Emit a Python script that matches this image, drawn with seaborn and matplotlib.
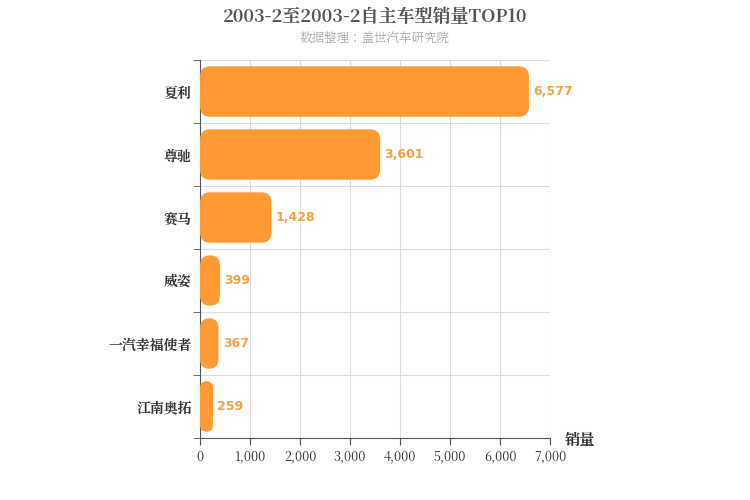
import matplotlib
matplotlib.use("Agg")
import matplotlib.pyplot as plt
import seaborn as sns
import pandas as pd
from matplotlib.patches import FancyBboxPatch
from matplotlib import font_manager as fm

cjk = [f.name for f in fm.fontManager.ttflist if "CJK" in f.name]
pref = [n for n in cjk if n.endswith("SC")] or cjk
if not pref:
    import glob
    for p in glob.glob("/usr/share/fonts/**/*CJK*", recursive=True):
        try:
            fm.fontManager.addfont(p)
        except Exception:
            pass
    cjk = [f.name for f in fm.fontManager.ttflist if "CJK" in f.name]
    pref = [n for n in cjk if n.endswith("SC")] or cjk
plt.rcParams["font.family"] = "sans-serif"
plt.rcParams["font.sans-serif"] = (pref[:1] if pref else []) + ["DejaVu Sans"]

categories = ["夏利", "尊驰", "赛马", "威姿", "一汽幸福使者", "江南奥拓"]
sales = [6577, 3601, 1428, 399, 367, 259]
xticks = [0, 1000, 2000, 3000, 4000, 5000, 6000, 7000]

df = pd.DataFrame({"cat": categories, "v": sales})
fig = plt.figure(figsize=(7.5, 5), dpi=100)
ax = fig.add_axes([0.2667, 0.124, 0.4667, 0.756])
sns.barplot(data=df, y="cat", x="v", color="#FF9933", width=0.8, ax=ax, saturation=1)
ax.set_xlim(0, 7000)
ax.set_ylim(5.5, -0.5)

for p in list(ax.patches):
    x, y, w, h = p.get_x(), p.get_y(), p.get_width(), p.get_height()
    p.remove()
    r = min(200, w / 2)
    fb = FancyBboxPatch((x, y), w, h, boxstyle=f"round,pad=0,rounding_size={r}",
                        mutation_aspect=0.000794, fc="#FF9933", ec="none", zorder=3)
    ax.add_patch(fb)

for i, v in enumerate(sales):
    ax.text(v + 90, i, f"{v:,}", va="center", ha="left", color="#F5A244",
            fontsize=9, fontweight="bold", family="DejaVu Sans")

ax.set_xticks(xticks)
ax.set_xticklabels([f"{t:,}" for t in xticks], fontsize=9, color="#333")
ax.set_yticks(range(6))
ax.set_yticklabels(categories, fontsize=10, fontweight="bold", color="#333")
ax.set_xlabel(""); ax.set_ylabel("")
ax.grid(axis="x", color="#dddddd", lw=0.8, zorder=0)
for b in [0.5, 1.5, 2.5, 3.5, 4.5, -0.5]:
    ax.axhline(b, color="#dddddd", lw=0.8, zorder=0)
ax.set_axisbelow(True)
for s in ["top", "right"]:
    ax.spines[s].set_visible(False)
for s in ["left", "bottom"]:
    ax.spines[s].set_color("#555")
ax.set_yticks([0.5, 1.5, 2.5, 3.5, 4.5, 5.5, -0.5], minor=True)
ax.tick_params(axis="y", which="major", length=0, pad=6)
ax.tick_params(axis="y", which="minor", length=5, color="#555")
ax.tick_params(axis="x", length=5, color="#555")

fig.text(0.5, 0.955, "2003-2至2003-2自主车型销量TOP10", ha="center", fontsize=13,
         fontweight="bold", color="#555")
fig.text(0.5, 0.915, "数据整理：盖世汽车研究院", ha="center", fontsize=9, color="#aaa")
fig.text(0.753, 0.11, "销量", fontsize=11, fontweight="bold", color="#333")
fig.savefig("out.png", dpi=100)
